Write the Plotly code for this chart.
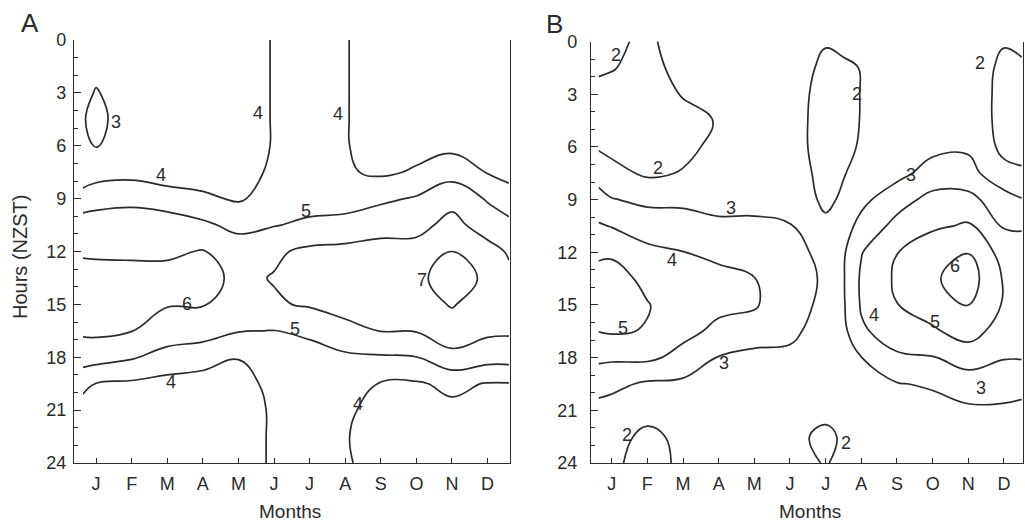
import numpy as np
import plotly.graph_objects as go

# ---------------- data ----------------
month_labels = ["J", "F", "M", "A", "M", "J", "J", "A", "S", "O", "N", "D"]
hours = [0, 1.5, 3, 4.5, 6, 7.5, 9, 10.5, 12, 13.5, 15, 16.5, 18, 19.5, 21, 22.5, 24]

# Panel A: grid columns (month position) and hourly profiles per column
months_a = [-0.37, 0, 1, 2, 3, 4, 5, 6, 7, 8, 9, 10, 11, 11.6]
a_edge_l = [3.5, 3.5, 3.2, 3.05, 3.2, 3.55, 4.3, 5.6, 5.9, 6.3, 6.4, 6.15, 5.5, 4.2, 3.7, 3.6, 3.6]
a_jan = [3.4, 3.2, 2.95, 2.8, 2.95, 3.6, 4.6, 5.5, 5.85, 6.35, 6.45, 6.2, 5.4, 3.98, 3.6, 3.5, 3.5]
a_feb = [3.5, 3.45, 3.4, 3.39, 3.4, 3.7, 4.7, 5.6, 5.85, 6.3, 6.5, 6.02, 5.1, 3.85, 3.6, 3.5, 3.5]
a_mar = [3.5, 3.5, 3.5, 3.5, 3.5, 3.55, 4.4, 5.6, 5.85, 6.3, 6.05, 5.6, 4.6, 3.7, 3.6, 3.55, 3.55]
a_apr = [3.55, 3.55, 3.55, 3.55, 3.55, 3.6, 4.15, 5.2, 6.05, 6.3, 6.05, 5.5, 4.3, 3.7, 3.6, 3.6, 3.6]
a_may = [3.6, 3.6, 3.6, 3.6, 3.6, 3.65, 3.9, 4.7, 5.6, 5.8, 5.6, 5.05, 4.02, 3.8, 3.65, 3.65, 3.65]
a_jun = [4.05, 4.05, 4.05, 4.05, 4.05, 4.15, 4.35, 4.95, 5.85, 6.05, 5.9, 4.98, 4.4, 4.15, 4.1, 4.1, 4.1]
a_jul = [4.3, 4.3, 4.3, 4.3, 4.3, 4.35, 4.55, 5.2, 6.2, 6.4, 6.1, 5.2, 4.6, 4.4, 4.35, 4.3, 4.3]
a_aug = [4.05, 4.05, 4.05, 4.05, 4.05, 4.1, 4.6, 5.3, 6.3, 6.45, 6.25, 5.8, 4.8, 4.4, 4.15, 4.05, 4.1]
a_sep = [3.6, 3.6, 3.6, 3.6, 3.65, 3.85, 4.8, 5.7, 6.3, 6.5, 6.3, 6.02, 4.9, 3.95, 3.7, 3.65, 3.65]
a_oct = [3.6, 3.6, 3.6, 3.6, 3.7, 4.1, 5.1, 5.7, 6.35, 6.75, 6.55, 6.05, 4.98, 3.9, 3.7, 3.65, 3.65]
a_nov = [3.6, 3.6, 3.6, 3.6, 3.75, 4.6, 5.7, 6.3, 7.02, 7.5, 7.08, 6.5, 5.75, 4.2, 3.8, 3.7, 3.7]
a_dec = [3.6, 3.6, 3.6, 3.6, 3.7, 3.95, 4.9, 5.55, 6.35, 6.8, 6.45, 6.2, 5.4, 3.95, 3.75, 3.7, 3.7]
a_edge_r = [3.6, 3.6, 3.6, 3.6, 3.6, 3.75, 4.35, 5.3, 5.9, 6.2, 6.3, 6.15, 5.4, 3.95, 3.75, 3.7, 3.7]

# Panel B
months_b = [-0.37, 0, 1, 2, 3, 4, 5, 6, 6.5, 7, 8, 9, 10, 11, 11.5]
b_edge_l = [2.3, 2.1, 1.8, 1.7, 1.9, 2.6, 3.35, 4.1, 4.85, 5.3, 5.3, 5.02, 4.2, 3.35, 2.7, 2.4, 2.3]
b_jan = [2.2, 2.05, 1.7, 1.6, 1.75, 2.3, 3.05, 3.95, 4.85, 5.4, 5.5, 5.1, 4.15, 3.25, 2.6, 2.3, 2.15]
b_feb = [1.8, 1.7, 1.6, 1.55, 1.6, 1.85, 2.8, 3.5, 4.25, 4.75, 5.05, 4.95, 4.2, 2.85, 2.3, 1.8, 1.7]
b_mar = [2.5, 2.3, 2.05, 1.75, 1.8, 2.05, 2.8, 3.4, 4.02, 4.4, 4.5, 4.25, 3.7, 2.8, 2.6, 2.2, 2.15]
b_apr = [2.5, 2.45, 2.3, 2.05, 2.2, 2.4, 2.65, 3.2, 3.75, 4.3, 4.2, 3.8, 2.95, 2.65, 2.5, 2.4, 2.4]
b_may = [2.5, 2.5, 2.45, 2.4, 2.4, 2.5, 2.75, 3.15, 3.6, 4.02, 4.1, 3.55, 2.7, 2.6, 2.5, 2.45, 2.45]
b_jun = [2.4, 2.35, 2.3, 2.3, 2.3, 2.4, 2.65, 3.05, 3.3, 3.5, 3.35, 3.2, 2.8, 2.55, 2.45, 2.3, 2.3]
b_jul = [2.05, 1.85, 1.75, 1.7, 1.7, 1.75, 1.8, 2.2, 2.75, 2.85, 2.8, 2.6, 2.4, 2.3, 2.3, 1.75, 1.95]
b_jul_mid = [2.15, 1.9, 1.8, 1.75, 1.75, 1.95, 2.15, 2.6, 2.88, 2.93, 2.9, 2.75, 2.6, 2.45, 2.35, 2.15, 2.2]
b_aug = [2.1, 2.02, 2.02, 2.03, 2.1, 2.3, 2.75, 3.3, 3.95, 4.15, 4.1, 3.85, 2.98, 2.7, 2.5, 2.35, 2.3]
b_sep = [2.4, 2.4, 2.4, 2.4, 2.5, 2.7, 3.6, 4.3, 4.98, 5.15, 4.98, 4.5, 3.85, 2.95, 2.7, 2.5, 2.4]
b_oct = [2.4, 2.4, 2.45, 2.5, 2.75, 3.4, 4.3, 4.85, 5.6, 5.85, 5.5, 4.85, 3.95, 3.1, 2.7, 2.5, 2.4]
b_nov = [2.4, 2.4, 2.5, 2.6, 2.85, 3.35, 4.3, 5.1, 5.97, 6.5, 6.05, 5.45, 4.35, 3.6, 2.8, 2.6, 2.45]
b_dec = [2.05, 1.85, 1.75, 1.7, 1.75, 2.3, 3.4, 3.9, 4.6, 4.9, 4.9, 4.5, 4.05, 3.4, 2.85, 2.6, 2.5]
b_edge_r = [2.15, 1.9, 1.75, 1.7, 1.75, 2.1, 3.05, 3.9, 4.4, 4.7, 4.7, 4.4, 4.05, 3.35, 2.75, 2.65, 2.55]

# contour label text and where it sits (month, hour)
labels_a = [("3", 0.56, 4.65), ("4", 4.55, 4.15), ("4", 6.8, 4.2), ("4", 1.83, 7.65),
            ("5", 5.9, 9.7), ("6", 2.56, 15.0), ("7", 9.15, 13.6), ("5", 5.59, 16.4),
            ("4", 2.1, 19.4), ("4", 7.35, 20.65)]
labels_b = [("2", 0.11, 0.76), ("2", 1.3, 7.2), ("2", 6.88, 2.98), ("2", 10.32, 1.23),
            ("3", 3.34, 9.5), ("3", 8.4, 7.6), ("4", 1.7, 12.44), ("5", 0.33, 16.33),
            ("6", 9.62, 12.8), ("4", 7.35, 15.6), ("5", 9.06, 15.95), ("3", 3.15, 18.3),
            ("3", 10.36, 19.75), ("2", 0.42, 22.4), ("2", 6.56, 22.85)]

z_a = np.array([a_edge_l, a_jan, a_feb, a_mar, a_apr, a_may, a_jun, a_jul,
                a_aug, a_sep, a_oct, a_nov, a_dec, a_edge_r]).T
z_b = np.array([b_edge_l, b_jan, b_feb, b_mar, b_apr, b_may, b_jun, b_jul, b_jul_mid,
                b_aug, b_sep, b_oct, b_nov, b_dec, b_edge_r]).T

# ---------------- figure ----------------
W, H = 1025, 523
INK = "#2b2b2b"
FONT = "Liberation Sans, Arial, sans-serif"

fig = go.Figure()
fig.add_trace(go.Contour(
    x=months_a, y=hours, z=z_a, xaxis="x", yaxis="y",
    contours=dict(start=3, end=7, size=1, coloring="none", showlabels=False),
    line=dict(color=INK, width=1.7, smoothing=1.2),
    showscale=False, hoverinfo="skip"))
fig.add_trace(go.Contour(
    x=months_b, y=hours, z=z_b, xaxis="x2", yaxis="y2",
    contours=dict(start=2, end=6, size=1, coloring="none", showlabels=False),
    line=dict(color=INK, width=1.7, smoothing=1.2),
    showscale=False, hoverinfo="skip"))

def px_x(p):
    return p / W

def px_y(p):
    return (H - p) / H

xcommon = dict(tickmode="array", tickvals=list(range(12)), ticktext=month_labels,
               ticks="inside", ticklen=5, tickcolor=INK, tickwidth=1.2,
               showline=True, linecolor=INK, linewidth=1.3, showgrid=False,
               zeroline=False, automargin=False,
               tickfont=dict(family=FONT, size=18, color=INK), ticklabelstandoff=4)
ycommon = dict(tickmode="array", tickvals=list(range(0, 25, 3)), autorange=False,
               range=[24, 0], ticks="inside", ticklen=7, tickcolor=INK, tickwidth=1.2,
               minor=dict(dtick=1, ticks="inside", ticklen=4, tickcolor=INK, tickwidth=1),
               showline=True, mirror=True, linecolor=INK, linewidth=1.3,
               showgrid=False, zeroline=False, automargin=False,
               tickfont=dict(family=FONT, size=18, color=INK))

fig.update_layout(
    width=W, height=H,
    margin=dict(l=0, r=0, t=0, b=0, pad=0, autoexpand=False),
    paper_bgcolor="white", plot_bgcolor="white", showlegend=False,
    xaxis=dict(domain=[px_x(74), px_x(510)], range=[-0.62, 11.63], anchor="y", **xcommon),
    yaxis=dict(domain=[px_y(463), px_y(40)], anchor="x", ticklabelstandoff=3, **ycommon),
    xaxis2=dict(domain=[px_x(591), px_x(1022.5)], range=[-0.58, 11.52], anchor="y2", **xcommon),
    yaxis2=dict(domain=[px_y(463), px_y(41.5)], anchor="x2", ticklabelstandoff=9, **ycommon),
)

LBL = dict(family=FONT, size=18, color=INK)
ann = []
for txt, mx, hy in labels_a:
    ann.append(dict(text=txt, x=mx, y=hy, xref="x", yref="y", showarrow=False,
                    xanchor="center", yanchor="middle", font=LBL))
for txt, mx, hy in labels_b:
    ann.append(dict(text=txt, x=mx, y=hy, xref="x2", yref="y2", showarrow=False,
                    xanchor="center", yanchor="middle", font=LBL))

def paper_text(txt, x, y, size, angle=0):
    return dict(text=txt, x=px_x(x), y=px_y(y), xref="paper", yref="paper",
                showarrow=False, xanchor="center", yanchor="middle", textangle=angle,
                font=dict(family=FONT, size=size, color=INK))

ann += [
    paper_text("A", 30, 23, 26),
    paper_text("B", 554, 24, 26),
    paper_text("Hours (NZST)", 20, 257, 20, -90),
    paper_text("Months", 290, 511, 19),
    paper_text("Months", 810, 511, 19),
]
fig.update_layout(annotations=ann)

fig.write_html("out.html")
